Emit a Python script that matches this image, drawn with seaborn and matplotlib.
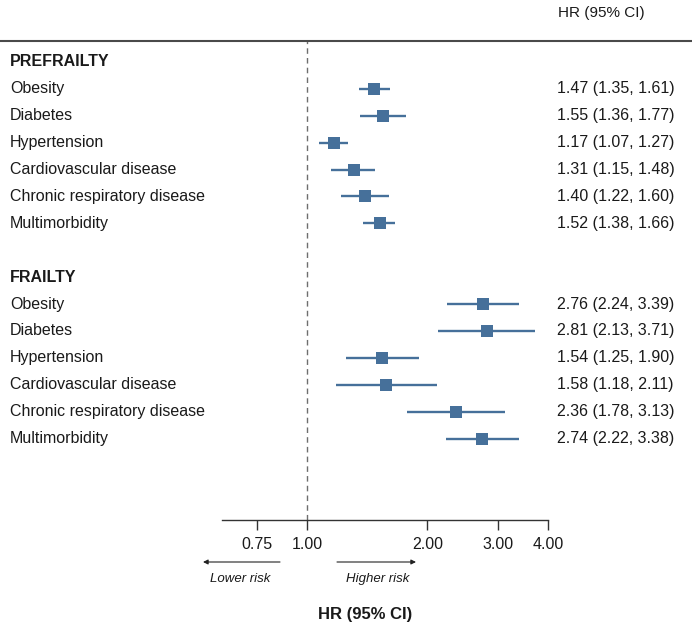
import pandas as pd
import matplotlib
matplotlib.use("Agg")
import matplotlib.pyplot as plt
import matplotlib.transforms as mtransforms
from matplotlib.lines import Line2D
from matplotlib.ticker import NullLocator
import seaborn as sns

sns.set_theme(style="white")
plt.rcParams["font.family"] = ["Liberation Sans", "DejaVu Sans"]

# data
groups = ["PREFRAILTY", "FRAILTY"]
conditions = [
    "Obesity",
    "Diabetes",
    "Hypertension",
    "Cardiovascular disease",
    "Chronic respiratory disease",
    "Multimorbidity",
]
prefrailty_hr = [1.47, 1.55, 1.17, 1.31, 1.40, 1.52]
prefrailty_lo = [1.35, 1.36, 1.07, 1.15, 1.22, 1.38]
prefrailty_hi = [1.61, 1.77, 1.27, 1.48, 1.60, 1.66]
frailty_hr = [2.76, 2.81, 1.54, 1.58, 2.36, 2.74]
frailty_lo = [2.24, 2.13, 1.25, 1.18, 1.78, 2.22]
frailty_hi = [3.39, 3.71, 1.90, 2.11, 3.13, 3.38]
tick_values = [0.75, 1.00, 2.00, 3.00, 4.00]
tick_labels = ["0.75", "1.00", "2.00", "3.00", "4.00"]

# table of rows
rows = []
for gi, (hr, lo, hi) in enumerate(
    [(prefrailty_hr, prefrailty_lo, prefrailty_hi), (frailty_hr, frailty_lo, frailty_hi)]
):
    for i, cond in enumerate(conditions):
        rows.append(
            {"group": groups[gi], "condition": cond, "row": gi * 8 + 1 + i,
             "hr": hr[i], "lo": lo[i], "hi": hi[i]}
        )
df = pd.DataFrame(rows)

W, H = 692, 630
color = "#46709a"
txt = "#1a1a1a"
fs = 11.5

fig = plt.figure(figsize=(W / 100, H / 100), dpi=100)
ax = fig.add_axes([222 / W, 110 / H, 326 / W, 480 / H])

ax.axvline(1.0, color="#6e6e6e", ls=(0, (4, 3)), lw=1, zorder=1)
ax.hlines(df["row"], df["lo"], df["hi"], color=color, lw=1.7, zorder=2)
sns.scatterplot(data=df, x="hr", y="row", marker="s", s=68, color=color,
                edgecolor=color, linewidth=0, ax=ax, zorder=3, legend=False)

ax.set_xscale("log")
ax.set_xlim(0.614, 4.0)
ax.set_ylim(17.03, -0.818)
ax.xaxis.set_minor_locator(NullLocator())
ax.set_xticks(tick_values)
ax.set_xticklabels(tick_labels)
ax.set_yticks([])
ax.set_xlabel("")
ax.set_ylabel("")
for s in ["top", "left", "right"]:
    ax.spines[s].set_visible(False)
ax.spines["bottom"].set_color("#333333")
ax.spines["bottom"].set_linewidth(1)
ax.tick_params(axis="x", bottom=True, direction="out", length=7, width=1,
               color="#333333", labelsize=fs, labelcolor=txt, pad=5)

# left labels and right values
trans = mtransforms.blended_transform_factory(fig.transFigure, ax.transData)
for gi, g in enumerate(groups):
    ax.text(10 / W, gi * 8, g, transform=trans, va="center", ha="left",
            fontsize=fs, fontweight="bold", color=txt)
for _, r in df.iterrows():
    ax.text(10 / W, r["row"], r["condition"], transform=trans, va="center",
            ha="left", fontsize=fs, color=txt)
    ax.text(557 / W, r["row"], f"{r['hr']:.2f} ({r['lo']:.2f}, {r['hi']:.2f})",
            transform=trans, va="center", ha="left", fontsize=fs, color=txt)

fig.text(558 / W, 1 - 13 / H, "HR (95% CI)", ha="left", va="center",
         fontsize=11, color=txt)
fig.add_artist(Line2D([0, 1], [1 - 41 / H] * 2, transform=fig.transFigure,
                      color="#4a4a4a", lw=1.5))

# risk arrows
y_arr = 1 - 562 / H
ax.annotate("", xy=(203 / W, y_arr), xytext=(280 / W, y_arr),
            xycoords="figure fraction",
            arrowprops=dict(arrowstyle="-|>", color="#222222", lw=0.8,
                            mutation_scale=7, shrinkA=0, shrinkB=0))
ax.annotate("", xy=(416 / W, y_arr), xytext=(337 / W, y_arr),
            xycoords="figure fraction",
            arrowprops=dict(arrowstyle="-|>", color="#222222", lw=0.8,
                            mutation_scale=7, shrinkA=0, shrinkB=0))
fig.text(240 / W, 1 - 579 / H, "Lower risk", ha="center", va="center",
         fontsize=9.5, style="italic", color=txt)
fig.text(378 / W, 1 - 579 / H, "Higher risk", ha="center", va="center",
         fontsize=9.5, style="italic", color=txt)
fig.text(365 / W, 1 - 615 / H, "HR (95% CI)", ha="center", va="center",
         fontsize=12, fontweight="bold", color=txt)

fig.savefig("out.png", dpi=100)
